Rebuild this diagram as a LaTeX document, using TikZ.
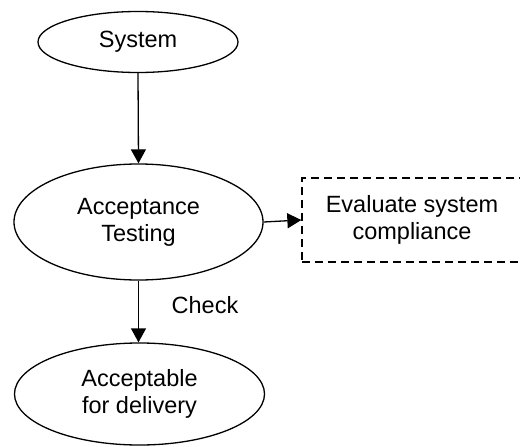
\documentclass[tikz,border=0pt]{standalone}
\usepackage{fontspec}
\setmainfont{Liberation Sans}
\usetikzlibrary{shapes.geometric,arrows.meta}
\begin{document}
\begin{tikzpicture}[x=1pt,y=-1pt,
  txt/.style={font=\fontsize{23.5}{27}\selectfont,align=center},
  ell/.style={txt,draw,ellipse,line width=1.3pt,inner sep=0pt},
  dbox/.style={txt,draw,rectangle,line width=1.3pt,inner sep=0pt,dash pattern=on 8pt off 5pt},
  arr/.style={line width=1.3pt,-{Triangle[length=14pt,width=15pt]}}]
\useasboundingbox (0,0) rectangle (520,447);
\node[ell,minimum width=200pt,minimum height=61pt] (sys) at (138,42) {System};
\node[ell,minimum width=249pt,minimum height=116pt] (acc) at (138.5,222) {Acceptance\\Testing};
\node[ell,minimum width=250pt,minimum height=102pt] (del) at (139.5,394) {Acceptable\\for delivery};
\node[dbox,minimum width=220pt,minimum height=84pt] (eval) at (412,220) {Evaluate system\\compliance};
\node[txt] (chk) at (205,305) {Check};
\draw[arr] (sys.south) -- (acc.north);
\draw[arr] (acc.south) -- (acc.south |- del.north);
\draw[arr] (acc.east) -- (eval.west);
\end{tikzpicture}
\end{document}
